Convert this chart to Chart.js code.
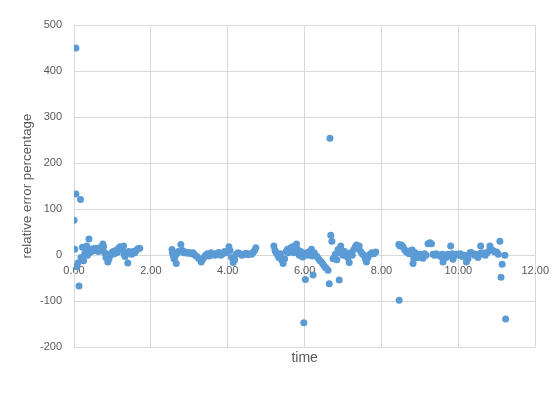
<!DOCTYPE html>
<html>
<head>
<meta charset="utf-8">
<script src="https://cdn.jsdelivr.net/npm/chart.js@4/dist/chart.umd.min.js"></script>
<style>
html,body{margin:0;padding:0;background:#fff;}
#wrap{width:558px;height:393px;position:relative;}
</style>
</head>
<body>
<div id="wrap"><canvas id="c" width="558" height="393"></canvas></div>
<script>
const timeValues = [
  0.00,0.02,0.05,0.05,0.07,0.10,0.13,0.17,0.18,0.22,0.25,0.28,0.30,0.33,0.35,0.39,0.40,0.43,0.46,0.50,0.53,0.57,0.60,0.63,0.67,0.70,0.75,0.77,0.80,0.83,0.88,0.86,0.91,0.95,0.98,1.02,1.05,1.08,1.12,1.16,1.20,1.24,1.29,1.30,1.33,1.36,1.40,1.43,1.47,1.50,1.54,1.58,1.62,1.66,1.71,
  2.55,2.56,2.58,2.60,2.62,2.66,2.68,2.72,2.78,2.82,2.86,2.90,2.95,3.00,3.05,3.10,3.15,3.20,3.25,3.31,3.34,3.38,3.42,3.47,3.52,3.57,3.62,3.67,3.72,3.77,3.82,3.87,3.92,3.97,4.03,4.06,4.10,4.14,4.18,4.22,4.27,4.32,4.37,4.42,4.47,4.52,4.57,4.62,4.66,4.70,4.73,
  5.20,5.23,5.26,5.30,5.33,5.37,5.40,5.44,5.48,5.52,5.55,5.58,5.62,5.65,5.68,5.72,5.75,5.79,5.82,5.86,5.90,5.95,5.98,6.02,6.05,6.09,6.13,6.18,6.20,6.22,6.25,6.28,6.32,6.36,6.40,6.44,6.48,6.52,6.56,6.61,6.64,6.66,6.68,6.71,6.74,6.77,6.80,6.84,6.87,6.90,6.92,6.94,6.97,7.00,7.04,7.08,7.12,7.16,7.20,7.24,7.28,7.32,7.35,7.38,7.42,7.46,7.50,7.54,7.58,7.61,7.65,7.70,7.75,7.80,7.85,
  8.45,8.46,8.48,8.52,8.56,8.60,8.64,8.68,8.72,8.76,8.80,8.82,8.84,8.88,8.92,8.96,9.00,9.04,9.08,9.12,9.16,9.21,9.26,9.30,9.34,9.38,9.42,9.46,9.50,9.54,9.58,9.60,9.64,9.68,9.72,9.76,9.80,9.84,9.86,9.90,9.95,10.00,10.05,10.10,10.15,10.21,10.25,10.30,10.34,10.38,10.42,10.46,10.51,10.55,10.58,10.62,10.66,10.70,10.74,10.78,10.82,10.86,10.90,10.95,11.00,11.04,11.08,11.11,11.14,11.21,11.23
];
const errorValues = [
  76,13,450,133,-25,-17,-67,121,-5,17,-12,3,10,20,0,35,5,12,8,14,10,15,12,8,16,10,24,18,5,-5,-15,2,-8,0,5,8,3,10,6,15,18,12,20,2,-3,5,-17,8,4,2,8,5,10,14,15,
  12,5,0,-8,-5,-18,3,8,23,10,5,7,4,6,3,5,0,-3,-8,-15,-10,-5,0,3,-2,5,2,0,4,6,0,3,8,5,18,10,-5,-16,-10,2,5,3,0,2,4,1,3,2,6,10,16,
  20,10,5,0,-5,3,-10,-18,-8,8,12,5,15,10,18,5,20,24,12,0,8,-4,-147,-53,5,0,8,13,-2,-43,5,0,-3,-8,-12,-15,-20,-25,-28,-33,-62,254,43,30,-8,-5,2,-10,12,-54,5,20,10,0,8,2,-5,-16,5,0,12,18,22,15,20,8,3,0,-8,-15,-5,2,5,3,7,
  23,-98,20,22,18,12,8,5,3,10,11,-18,-8,5,0,-5,2,0,-7,3,0,25,27,25,2,0,3,1,0,-3,2,-15,0,-5,2,0,20,3,-9,0,2,0,3,-3,0,-15,-8,5,6,3,0,2,-5,3,20,5,2,0,5,8,20,12,10,7,7,2,30,-48,-20,0,-139
];
const xTickMin = 0, xTickMax = 12, xTickStep = 2;
const yTickMin = -200, yTickMax = 500, yTickStep = 100;
const xTitle = 'time';
const yTitle = 'relative error percentage';

const points = timeValues.map((t, i) => ({x: t, y: errorValues[i]}));
const gridCol = '#d9d9d9';
const txtCol = '#595959';
const fontFam = "'Liberation Sans', Arial, sans-serif";

new Chart(document.getElementById('c'), {
  type: 'scatter',
  data: {
    datasets: [{
      data: points,
      xAxisID: 'x',
      yAxisID: 'y',
      backgroundColor: '#5B9BD5',
      borderColor: '#5B9BD5',
      pointRadius: 3.5,
      pointBorderWidth: 0
    }]
  },
  options: {
    responsive: false,
    animation: false,
    events: [],
    layout: {padding: {left: 17, right: 22, top: 25, bottom: 26}},
    plugins: {legend: {display: false}, tooltip: {enabled: false}},
    scales: {
      x: {
        type: 'linear', position: 'bottom', min: xTickMin, max: xTickMax,
        ticks: {display: false, stepSize: xTickStep},
        grid: {color: gridCol, drawTicks: false},
        border: {display: false},
        title: {display: true, text: xTitle, color: txtCol, font: {family: fontFam, size: 14}, padding: {top: 3, bottom: 0}}
      },
      x2: {
        type: 'linear', position: {y: 0}, min: xTickMin, max: xTickMax,
        ticks: {stepSize: xTickStep, color: txtCol, font: {family: fontFam, size: 11}, padding: 9,
                callback: v => Number(v).toFixed(2)},
        grid: {display: false, drawTicks: false},
        border: {display: false}
      },
      y: {
        min: yTickMin, max: yTickMax,
        afterFit: s => { s.width = 57; },
        ticks: {stepSize: yTickStep, color: txtCol, font: {family: fontFam, size: 11}, padding: 12},
        grid: {color: gridCol, drawTicks: false},
        border: {color: gridCol},
        title: {display: true, text: yTitle, color: txtCol, font: {family: fontFam, size: 13.3}, padding: 2}
      }
    }
  }
});
</script>
</body>
</html>
